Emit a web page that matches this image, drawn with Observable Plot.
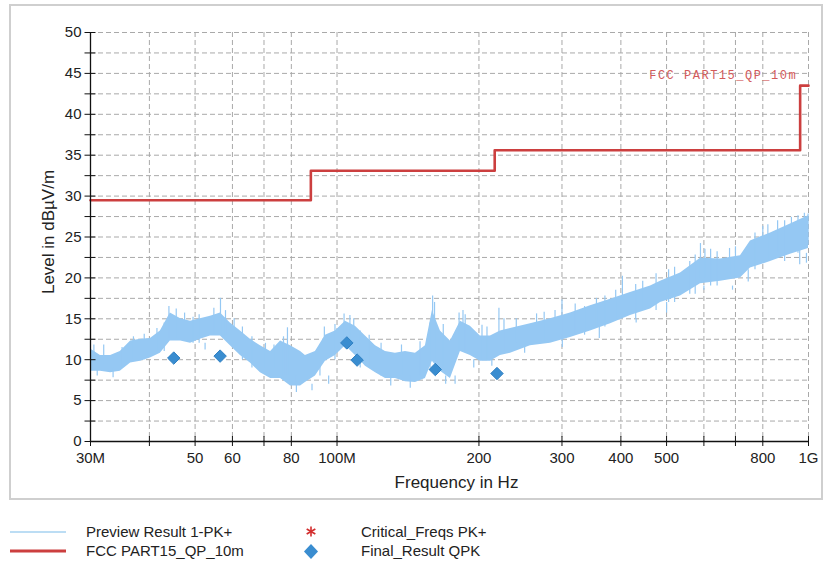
<!DOCTYPE html>
<html><head><meta charset="utf-8">
<script src="https://cdn.jsdelivr.net/npm/d3@7"></script>
<script src="https://cdn.jsdelivr.net/npm/@observablehq/plot@0.6"></script>
<style>
body{margin:0;background:#fff;width:824px;height:566px;position:relative;overflow:hidden;font-family:"Liberation Sans",Arial,sans-serif;}
#frame{position:absolute;left:9px;top:4px;width:810px;height:492px;border:2px solid #cfcfcf;}
#chart{position:absolute;left:0;top:0;}
.leg{position:absolute;font-size:15px;color:#222;line-height:18px;white-space:nowrap;}
#legsym{position:absolute;left:0;top:515px;}
</style></head><body>
<div id="frame"></div>
<div id="chart"></div>
<div id="legend"></div>
<script>
// Preview Result 1-PK+ : envelope of the noisy trace (MHz, dBµV/m)
const freqMHz = [30.0, 31.5, 33.1, 34.7, 36.5, 38.3, 40.2, 42.2, 44.3, 46.6, 48.9, 51.3, 53.9, 56.6, 59.4, 62.4, 65.5, 68.8, 72.3, 75.9, 79.7, 83.7, 85.7, 90.0, 94.5, 99.2, 104.2, 109.4, 114.9, 120.7, 126.7, 133.0, 139.7, 146.7, 154.0, 159.3, 165.7, 174.0, 182.7, 191.8, 201.4, 211.6, 222.1, 233.3, 257.2, 283.6, 312.7, 344.8, 380.3, 419.2, 462.3, 485.4, 535.2, 590.1, 650.8, 717.3, 753.2, 830.7, 915.6, 1000];
const levelHi = [11.3, 10.5, 10.5, 11.0, 12.3, 12.5, 12.6, 13.5, 15.7, 15.0, 14.7, 15.0, 15.3, 15.7, 14.5, 13.5, 12.5, 11.7, 11.0, 12.3, 11.7, 11.0, 10.5, 11.0, 13.0, 13.5, 14.7, 14.1, 12.9, 11.7, 11.0, 10.8, 11.0, 10.8, 11.7, 16.0, 13.5, 12.3, 14.7, 14.1, 12.9, 12.9, 13.5, 13.8, 14.4, 15.0, 15.7, 16.6, 17.4, 18.2, 19.0, 19.6, 20.6, 22.4, 22.3, 22.7, 24.5, 25.5, 26.6, 27.6];
const levelLo = [8.6, 8.6, 8.4, 8.6, 9.6, 9.8, 10.2, 10.8, 12.3, 12.3, 12.0, 12.5, 12.9, 12.9, 11.7, 10.5, 9.6, 8.4, 7.7, 7.7, 6.8, 6.8, 7.2, 8.0, 9.8, 10.5, 11.7, 10.5, 9.2, 8.4, 7.7, 7.7, 7.3, 7.2, 7.7, 9.8, 8.6, 7.7, 11.0, 10.5, 9.8, 9.8, 10.5, 10.8, 11.7, 12.0, 12.7, 13.5, 14.4, 15.4, 16.2, 17.0, 17.8, 19.3, 19.6, 20.0, 21.2, 22.0, 22.9, 23.6];
// individual spikes / dips of the trace: frequency, where the stroke starts, where it ends
const spikeMHz   = [30.5, 31.0, 32.0, 33.5, 35.0, 37.0, 39.0, 41.5, 43.0, 44.0, 45.6, 47.5, 49.5, 51.0, 52.5, 54.8, 56.6, 58.0, 60.5, 63.0, 66.0, 70.5, 73.5, 77.0, 78.5, 82.0, 88.5, 92.0, 94.0, 96.0, 99.0, 103.5, 106.5, 108.5, 112.0, 117.0, 124.0, 130.0, 137.0, 143.0, 150.0, 157.5, 159.5, 161.0, 168.0, 170.0, 178.0, 181.5, 185.0, 187.0, 195.0, 203.0, 208.0, 213.0, 220.5, 226.0, 240.0, 250.0, 265.0, 275.0, 290.0, 300.0, 300.5, 320.0, 335.0, 355.0, 360.0, 370.0, 390.0, 403.0, 430.0, 431.0, 445.0, 475.0, 500.0, 505.0, 520.0, 560.0, 575.0, 590.0, 600.0, 603.0, 620.0, 640.0, 680.0, 690.0, 700.0, 745.0, 770.0, 800.0, 820.0, 860.0, 890.0, 920.0, 950.0, 958.0, 980.0, 990.0, 998.0];
const spikeBase  = [10.0, 9.0, 9.5, 9.0, 9.0, 10.0, 10.0, 11.0, 11.0, 12.5, 12.5, 12.5, 12.0, 12.0, 12.0, 13.0, 13.0, 13.0, 12.0, 10.0, 9.0, 9.0, 9.0, 8.0, 8.0, 8.0, 7.0, 8.0, 10.0, 8.0, 10.0, 12.0, 12.0, 11.0, 9.0, 9.0, 8.0, 8.0, 8.0, 8.0, 8.0, 9.0, 10.0, 10.0, 9.0, 8.0, 8.0, 11.0, 11.0, 11.0, 10.0, 10.0, 10.0, 10.0, 11.0, 11.0, 12.0, 12.0, 12.0, 12.0, 13.0, 13.0, 13.0, 13.0, 13.0, 14.0, 14.0, 14.0, 15.0, 15.0, 15.0, 15.0, 16.0, 16.0, 17.0, 17.0, 17.0, 18.0, 18.0, 20.0, 19.0, 20.0, 19.0, 19.0, 20.0, 19.0, 20.0, 21.0, 21.0, 22.0, 22.0, 23.0, 22.0, 23.0, 23.0, 23.6, 24.0, 23.0, 24.0];
const spikeLevel = [11.8, 8.0, 11.8, 7.8, 11.5, 12.8, 13.1, 13.8, 14.5, 16.5, 16.2, 15.7, 15.2, 15.5, 11.2, 16.3, 17.5, 16.0, 15.0, 14.0, 12.8, 12.0, 11.8, 12.8, 13.9, 6.0, 6.2, 11.8, 14.0, 7.0, 14.3, 15.6, 15.4, 15.0, 13.5, 13.0, 12.0, 6.8, 11.8, 6.5, 12.2, 14.5, 17.8, 17.0, 14.3, 7.0, 7.0, 15.7, 16.0, 15.5, 9.0, 14.2, 14.0, 9.2, 16.3, 15.0, 15.0, 10.8, 15.6, 15.8, 16.0, 17.3, 11.5, 16.8, 16.5, 17.5, 12.6, 17.8, 18.5, 20.2, 19.2, 14.5, 19.6, 20.5, 15.7, 21.0, 21.3, 22.0, 22.8, 24.2, 18.5, 23.5, 23.5, 23.2, 23.6, 18.5, 23.8, 19.5, 25.5, 26.3, 26.5, 27.0, 27.0, 27.4, 27.6, 21.6, 27.9, 21.8, 27.8];
// FCC PART15_QP_10m limit
const limitMHz = [30, 88, 216, 960, 1000];
const limitLevel = [29.5, 33.1, 35.6, 43.5, 43.5];
const limitName = "FCC PART15_QP_10m";
// Final_Result QPK
const finalMHz = [45.05, 56.5, 104.9, 110.3, 161.6, 218.4];
const finalLevel = [10.2, 10.44, 12.05, 9.95, 8.8, 8.31];
// axes
const yTicks = [0, 2.5, 5, 7.5, 10, 12.5, 15, 17.5, 20, 22.5, 25, 27.5, 30, 32.5, 35, 37.5, 40, 42.5, 45, 47.5, 50];
const yLabelTicks = [0, 5, 10, 15, 20, 25, 30, 35, 40, 45, 50];
const xTicks = [30, 40, 50, 60, 70, 80, 100, 200, 300, 400, 500, 600, 700, 800, 1000];
const xLabelTicks = [30, 50, 60, 80, 100, 200, 300, 400, 500, 800, 1000];
const xLabelText = ["30M", "50", "60", "80", "100M", "200", "300", "400", "500", "800", "1G"];
const yTitle = "Level in dBµV/m";
const xTitle = "Frequency in Hz";
const legendItems = ["Preview Result 1-PK+", "FCC PART15_QP_10m", "Critical_Freqs PK+", "Final_Result QPK"];

const traceColor = "#95c8f3";
const limitColor = "#cc3f3f";
const band = freqMHz.map((f, i) => ({f, lo: levelLo[i], hi: levelHi[i]}));
const spikes = spikeMHz.map((f, i) => ({f, y1: spikeBase[i], y2: spikeLevel[i]}));
const limit = limitMHz.map((f, i) => ({f, v: limitLevel[i]}));
const finals = finalMHz.map((f, i) => ({f, v: finalLevel[i]}));
const xLabels = xLabelTicks.map((f, i) => ({f, t: xLabelText[i]}));
const grid = {stroke: "#a9a9a9", strokeOpacity: 1, strokeDasharray: "5,3", strokeWidth: 1};

const plot = Plot.plot({
  width: 824, height: 500,
  marginLeft: 90, marginRight: 16, marginTop: 32, marginBottom: 59,
  style: {fontFamily: "'Liberation Sans', Arial, sans-serif", fontSize: "15px", color: "#222", background: "transparent", overflow: "visible"},
  x: {type: "log", domain: [30, 1000]},
  y: {domain: [0, 50]},
  marks: [
    Plot.gridY(yTicks, grid),
    Plot.gridX(xTicks, grid),
    Plot.areaY(band, {x: "f", y1: "lo", y2: "hi", fill: traceColor}),
    Plot.ruleX(spikes, {x: "f", y1: "y1", y2: "y2", stroke: traceColor, strokeWidth: 1.2}),
    Plot.line(limit, {x: "f", y: "v", curve: "step-after", stroke: limitColor, strokeWidth: 2.6}),
    Plot.text([{f: limitMHz[3], v: limitLevel[3], t: limitName}], {x: "f", y: "v", text: "t", textAnchor: "end", dx: -3, dy: -11, fill: "#d25a5a", fontFamily: "'Liberation Mono', 'Courier New', monospace", fontSize: 12}),
    Plot.dot(finals, {x: "f", y: "v", symbol: "diamond2", r: 5.6, fill: "#3a8dd0", stroke: "#2f80c3", strokeWidth: 1}),
    Plot.ruleY([0], {stroke: "#111", strokeWidth: 1.3}),
    Plot.ruleX([30], {stroke: "#111", strokeWidth: 1.3}),
    Plot.axisY(yTicks, {fill: "none", stroke: "#111", tickSize: 11, dx: 5.5, label: null}),
    Plot.axisY(yLabelTicks, {tickSize: 0, tickPadding: 9, label: null, fill: "#222", fontSize: 15}),
    Plot.axisX(xTicks, {fill: "none", stroke: "#111", tickSize: 10, dy: -5, label: null}),
    Plot.text(xLabels, {x: "f", text: "t", frameAnchor: "bottom", dy: 21, fill: "#222", fontSize: 15}),
    Plot.text([yTitle], {frameAnchor: "left", textAnchor: "middle", dx: -42, dy: -5, rotate: -90, fontSize: 17, fill: "#222"}),
    Plot.text([xTitle], {frameAnchor: "bottom", dy: 46, dx: 7, fontSize: 17, fill: "#222"})
  ]
});
document.getElementById("chart").appendChild(plot);
plot.querySelectorAll("text").forEach(t => { if (t.textContent === limitName) t.style.letterSpacing = "1.5px"; });

// legend
const leg = document.getElementById("legend");
const pos = [[86, 523], [86, 542], [361, 523], [361, 542]];
legendItems.forEach((s, i) => {
  const d = document.createElement("div");
  d.className = "leg"; d.textContent = s;
  d.style.left = pos[i][0] + "px"; d.style.top = pos[i][1] + "px";
  leg.appendChild(d);
});
const sv = d3.create("svg").attr("id", "legsym").attr("width", 420).attr("height", 50);
sv.append("line").attr("x1", 10).attr("x2", 66).attr("y1", 17).attr("y2", 17).attr("stroke", "#a6d2f0").attr("stroke-width", 1.4);
sv.append("line").attr("x1", 10).attr("x2", 66).attr("y1", 36).attr("y2", 36).attr("stroke", limitColor).attr("stroke-width", 3);
const ast = sv.append("g").attr("transform", "translate(311,16.5)").attr("stroke", "#d22c2c").attr("stroke-width", 1.6);
[0, 60, 120].forEach(a => ast.append("line").attr("x1", 0).attr("y1", -5).attr("x2", 0).attr("y2", 5).attr("transform", `rotate(${a})`));
sv.append("path").attr("d", "M311,29 L318,36.5 L311,44 L304,36.5 Z").attr("fill", "#3a8dd0");
leg.appendChild(sv.node());
</script>
</body></html>
